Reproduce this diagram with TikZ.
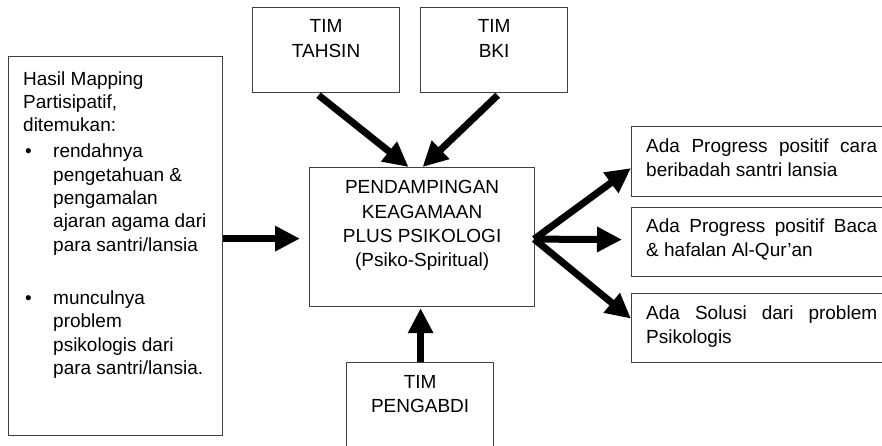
\documentclass[tikz,border=0pt]{standalone}
\usepackage{fontspec}
\setmainfont{Liberation Sans}
\usetikzlibrary{arrows.meta,calc}
\begin{document}
\begin{tikzpicture}[x=1pt,y=-1pt,
  box/.style={draw=black!75, line width=1.2pt, inner sep=0pt, anchor=north west},
  txt/.style={inner sep=0pt, text=black},
  arr/.style={line width=7pt, -{Triangle[length=25pt,width=24pt]}}]
\useasboundingbox (0,0) rectangle (882,445);
\clip (0,0) rectangle (882,445);
\fill[white] (0,0) rectangle (882,445);
% boxes
\node[box, minimum width=214pt, minimum height=379pt] (mapbox) at (8,56) {};
\node[box, minimum width=147pt, minimum height=85pt] (tahsin) at (252,7) {};
\node[box, minimum width=147pt, minimum height=85pt] (bki) at (420,7) {};
\node[box, minimum width=225pt, minimum height=139pt] (pend) at (309,167) {};
\node[box, minimum width=147pt, minimum height=110pt] (pengabdi) at (346,362) {};
\node[box, minimum width=300pt, minimum height=70pt] (r1) at (631,126) {};
\node[box, minimum width=300pt, minimum height=69pt] (r2) at (631,207) {};
\node[box, minimum width=300pt, minimum height=69pt] (r3) at (631,293) {};
% texts
\node[txt, anchor=north west, align=left, font=\fontsize{19}{23.3}\selectfont] (mapT) at ($(mapbox.north west)+(15,15.4)$)
 {Hasil Mapping\\
  Partisipatif,\\
  ditemukan:\\[2.7pt]
  \makebox[30pt][l]{\hspace{2pt}\textbullet}rendahnya\\
  \hspace*{30pt}pengetahuan \&\\
  \hspace*{30pt}pengamalan\\
  \hspace*{30pt}ajaran agama dari\\
  \hspace*{30pt}para santri/lansia\\[30pt]
  \makebox[30pt][l]{\hspace{2pt}\textbullet}munculnya\\
  \hspace*{30pt}problem\\
  \hspace*{30pt}psikologis dari\\
  \hspace*{30pt}para santri/lansia.};
\node[txt, anchor=north, align=center, font=\fontsize{19}{25}\selectfont] (tahsinT) at ($(tahsin.north)+(0,12.4)$) {TIM\\TAHSIN};
\node[txt, anchor=north, align=center, font=\fontsize{19}{25}\selectfont] (bkiT) at ($(bki.north)+(0,12.4)$) {TIM\\BKI};
\node[txt, anchor=north, align=center, font=\fontsize{19}{24.3}\selectfont] (pendT) at ($(pend.north)+(0,13.4)$)
 {PENDAMPINGAN\\KEAGAMAAN\\PLUS PSIKOLOGI\\(Psiko-Spiritual)};
\node[txt, anchor=north, align=center, font=\fontsize{19}{24}\selectfont] (pengT) at ($(pengabdi.north)+(0,13.4)$) {TIM\\PENGABDI};
\node[txt, anchor=north west, align=left, font=\fontsize{19}{24}\selectfont] (r1T) at ($(r1.north west)+(15,12.4)$)
 {\makebox[231pt][s]{Ada Progress positif cara}\\beribadah santri lansia};
\node[txt, anchor=north west, align=left, font=\fontsize{19}{24}\selectfont] (r2T) at ($(r2.north west)+(15,11.4)$)
 {\makebox[231pt][s]{Ada Progress positif Baca}\\\& hafalan Al-Qur’an};
\node[txt, anchor=north west, align=left, font=\fontsize{19}{24}\selectfont] (r3T) at ($(r3.north west)+(15,12.4)$)
 {\makebox[231pt][s]{Ada Solusi dari problem}\\Psikologis};
% arrows
\draw[arr] (mapbox.east |- pend.west) ++(0,1.5) -- ($(pend.west)+(-9,1.5)$);
\draw[arr] ($(tahsin.south west)!0.449!(tahsin.south east)+(0,2)$) -- ($(pend.north west)!0.44!(pend.north east)$);
\draw[arr] ($(bki.south west)!0.524!(bki.south east)+(0,2)$) -- ($(pend.north west)!0.502!(pend.north east)$);
\draw[arr] ($(pengabdi.north)+(0.5,0)$) -- ($(pend.south)+(-1.5,1)$);
\coordinate (fan) at ($(pend.east)+(-1,2)$);
\draw[arr] (fan) -- ($(r1.west)+(0,6.5)$);
\draw[arr] (fan) -- ($(r2.west)+(-9,-2.5)$);
\draw[arr] (fan) -- ($(r3.west)+(0,-9.5)$);
\end{tikzpicture}
\end{document}
